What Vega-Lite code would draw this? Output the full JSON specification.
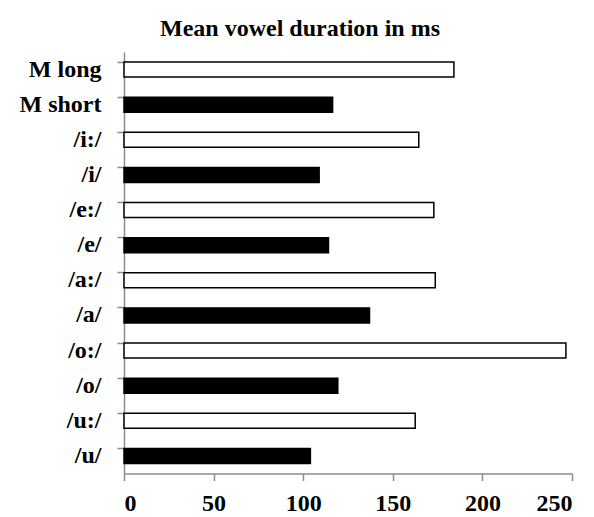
{
  "$schema": "https://vega.github.io/schema/vega-lite/v6.json",
  "autosize": "none",
  "width": 448,
  "height": 421.5,
  "padding": {"left": 124, "top": 52, "right": 22, "bottom": 43.5},
  "background": "white",
  "title": {
    "text": "Mean vowel duration in ms",
    "font": "Liberation Serif",
    "fontSize": 24,
    "fontWeight": "bold",
    "color": "black",
    "anchor": "middle",
    "dx": -48,
    "offset": 11
  },
  "data": {
    "values": [
      {"vowel": "M long", "type": "long", "ms": 184.1},
      {"vowel": "M short", "type": "short", "ms": 116.4},
      {"vowel": "/i:/", "type": "long", "ms": 164.5},
      {"vowel": "/i/", "type": "short", "ms": 108.9},
      {"vowel": "/e:/", "type": "long", "ms": 172.9},
      {"vowel": "/e/", "type": "short", "ms": 114.1},
      {"vowel": "/a:/", "type": "long", "ms": 173.7},
      {"vowel": "/a/", "type": "short", "ms": 137.0},
      {"vowel": "/o:/", "type": "long", "ms": 246.6},
      {"vowel": "/o/", "type": "short", "ms": 119.3},
      {"vowel": "/u:/", "type": "long", "ms": 162.5},
      {"vowel": "/u/", "type": "short", "ms": 104.0}
    ]
  },
  "mark": {"type": "bar", "stroke": "black", "strokeWidth": 1.5},
  "encoding": {
    "y": {
      "field": "vowel",
      "type": "nominal",
      "sort": null,
      "scale": {"paddingInner": 0.57, "paddingOuter": 0.285},
      "axis": {
        "title": null,
        "bandPosition": 0,
        "domainColor": "#8c8c8c",
        "domainWidth": 1.5,
        "tickColor": "#8c8c8c",
        "tickWidth": 1.5,
        "tickSize": 7,
        "labelFont": "Liberation Serif",
        "labelFontSize": 24,
        "labelFontWeight": "bold",
        "labelColor": "black",
        "labelPadding": 16,
        "grid": false
      }
    },
    "x": {
      "field": "ms",
      "type": "quantitative",
      "scale": {"domain": [0, 250], "nice": false},
      "axis": {
        "title": null,
        "values": [0, 50, 100, 150, 200, 250],
        "domainColor": "#8c8c8c",
        "domainWidth": 1.5,
        "tickColor": "#8c8c8c",
        "tickWidth": 1.5,
        "tickSize": 7,
        "labelFont": "Liberation Serif",
        "labelFontSize": 24,
        "labelFontWeight": "bold",
        "labelColor": "black",
        "labelPadding": 11,
        "grid": false
      }
    },
    "fill": {
      "field": "type",
      "type": "nominal",
      "scale": {"domain": ["long", "short"], "range": ["white", "black"]},
      "legend": null
    }
  },
  "config": {"view": {"stroke": null}}
}
